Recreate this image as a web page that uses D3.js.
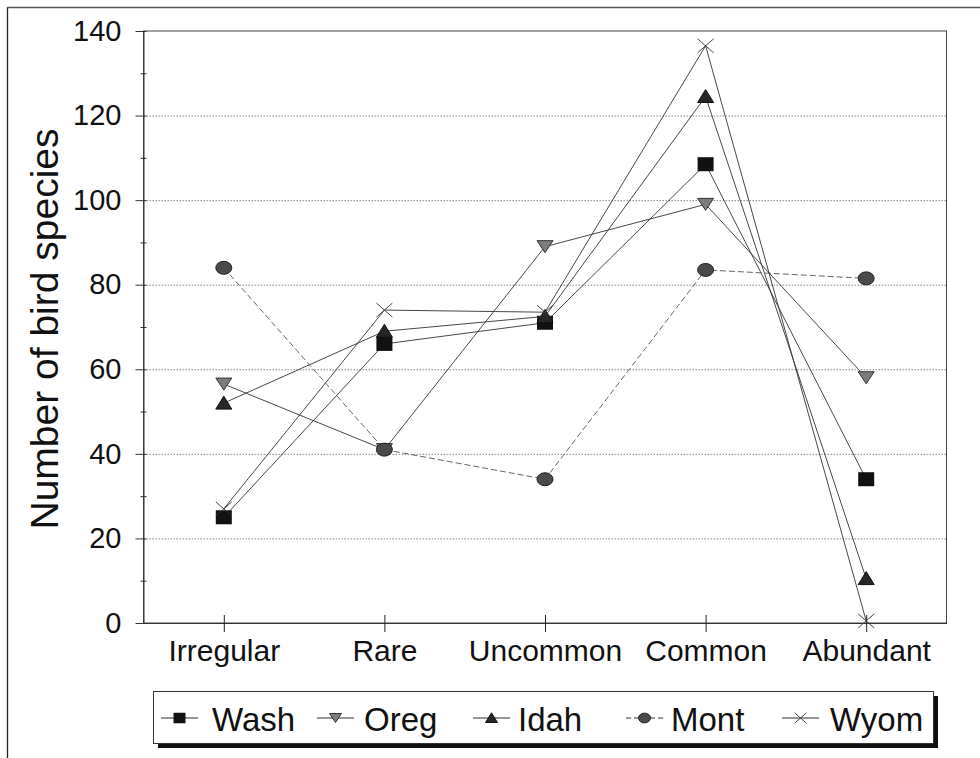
<!DOCTYPE html>
<html><head><meta charset="utf-8">
<script src="https://cdn.jsdelivr.net/npm/d3@7"></script>
<style>
html,body{margin:0;padding:0;background:#fff;}
svg{display:block;font-family:"Liberation Sans",Arial,sans-serif;}
</style></head>
<body><svg id="c" width="980" height="758"></svg>
<script>
const categories = ["Irregular","Rare","Uncommon","Common","Abundant"];
const seriesNames = ["Wash","Oreg","Idah","Mont","Wyom"];
const wash = [25, 66, 71, 108.5, 34];
const oreg = [56.5, 41, 89, 99, 58];
const idah = [52, 69, 72.5, 124.5, 10.5];
const mont = [84, 41, 34, 83.5, 81.5];
const wyom = [27, 74, 73.5, 136.5, 0.5];
const yMajorTicks = [0,20,40,60,80,100,120,140];
const yMinorTicks = [10,30,50,70,90,110,130];
const gridTicks = [20,40,60,80,100,120];

const seriesValues = [wash, oreg, idah, mont, wyom];
const svg = d3.select("#c");

// outer frame
svg.append("line").attr("x1",7.5).attr("x2",7.5).attr("y1",7).attr("y2",758).attr("stroke","#222").attr("stroke-width",1.3);
svg.append("line").attr("x1",7).attr("x2",980).attr("y1",7.5).attr("y2",7.5).attr("stroke","#555").attr("stroke-width",1.3);

const L = 143.5, R = 946.5, T = 31, B = 623;
const x = d3.scalePoint().domain(categories).range([L,R]).padding(0.5);
const y = d3.scaleLinear().domain([0,140]).range([B,T]);

// gridlines
svg.append("g").selectAll("line").data(gridTicks).join("line")
  .attr("x1",L).attr("x2",R).attr("y1",d=>y(d)+0.5).attr("y2",d=>y(d)+0.5)
  .attr("stroke","#777").attr("stroke-width",0.9).attr("stroke-dasharray","1.5,1.5");

// plot frame
svg.append("rect").attr("x",L).attr("y",T).attr("width",R-L).attr("height",B-T)
  .attr("fill","none").attr("stroke","#444").attr("stroke-width",1);

// y axis
const yAxis = d3.axisLeft(y).tickValues(yMajorTicks).tickSize(8).tickSizeOuter(0).tickPadding(14);
const gy = svg.append("g").attr("transform",`translate(${L},0)`).call(yAxis);
gy.select(".domain").attr("stroke","#333");
gy.selectAll(".tick line").attr("stroke","#333");
gy.selectAll(".tick text").attr("font-size",29).attr("fill","#111").attr("font-family","Liberation Sans, Arial, sans-serif");
const yMinor = d3.axisLeft(y).tickValues(yMinorTicks).tickSize(3).tickSizeOuter(0).tickFormat("");
const gym = svg.append("g").attr("transform",`translate(${L},0)`).call(yMinor);
gym.select(".domain").remove();
gym.selectAll(".tick line").attr("stroke","#333").attr("x2",3).attr("x1",-3);
gy.selectAll(".tick line").attr("x2",-8).attr("x1",3);

// x axis
const xAxis = d3.axisBottom(x).tickSize(9).tickSizeOuter(0).tickPadding(8);
const gx = svg.append("g").attr("transform",`translate(0,${B})`).call(xAxis);
gx.select(".domain").attr("stroke","#333");
gx.selectAll(".tick line").attr("stroke","#222").attr("y1",-8).attr("y2",9);
gx.selectAll(".tick text").attr("font-size",30).attr("fill","#111").attr("font-family","Liberation Sans, Arial, sans-serif");

// y title
svg.append("text").attr("transform","translate(58,329) rotate(-90)")
  .attr("text-anchor","middle").attr("font-size",39).attr("fill","#111").text("Number of bird species");

// markers
function marker(g, i, cx, cy, scale){
  const s = scale||1;
  if(i===0){
    g.append("rect").attr("x",cx-8*s).attr("y",cy-7*s).attr("width",16*s).attr("height",14*s).attr("fill","#111");
  } else if(i===1){
    g.append("path").attr("d",`M${cx-8*s},${cy-6*s}L${cx+8*s},${cy-6*s}L${cx},${cy+6*s}Z`)
      .attr("fill","#7d7d7d").attr("stroke","#333").attr("stroke-width",1);
  } else if(i===2){
    g.append("path").attr("d",`M${cx-8*s},${cy+6*s}L${cx+8*s},${cy+6*s}L${cx},${cy-7*s}Z`)
      .attr("fill","#262626").attr("stroke","#111").attr("stroke-width",1);
  } else if(i===3){
    g.append("ellipse").attr("cx",cx).attr("cy",cy).attr("rx",8*s).attr("ry",6.5*s)
      .attr("fill","#4a4a4a").attr("stroke","#222").attr("stroke-width",1);
  } else {
    g.append("path").attr("d",`M${cx-8*s},${cy-7*s}L${cx+8*s},${cy+7*s}M${cx-8*s},${cy+7*s}L${cx+8*s},${cy-7*s}`)
      .attr("stroke","#333").attr("stroke-width",0.9).attr("fill","none");
  }
}

const line = d3.line().x((d,i)=>x(categories[i])).y(d=>y(d));
seriesValues.forEach((vals,i)=>{
  const g = svg.append("g");
  g.append("path").attr("d",line(vals)).attr("fill","none")
    .attr("stroke", i===3 ? "#555" : "#333").attr("stroke-width",0.9)
    .attr("stroke-dasharray", i===3 ? "6,3" : null);
  vals.forEach((v,j)=>marker(g,i,x(categories[j]),y(v)));
});

// legend
const lg = svg.append("g");
lg.append("rect").attr("x",158).attr("y",696).attr("width",780).attr("height",52).attr("fill","#111");
lg.append("rect").attr("x",153.5).attr("y",691.5).attr("width",780).attr("height",52).attr("fill","#fff").attr("stroke","#333").attr("stroke-width",1);
const legX = [161, 317, 473, 626, 782];
const legTextX = [212, 364, 518, 671, 830];
seriesNames.forEach((n,i)=>{
  const cy = 718;
  lg.append("line").attr("x1",legX[i]).attr("x2",legX[i]+37).attr("y1",cy).attr("y2",cy)
    .attr("stroke","#333").attr("stroke-width",1).attr("stroke-dasharray", i===3?"5,3":null);
  marker(lg,i,legX[i]+18.5,cy,0.75);
  lg.append("text").attr("x",legTextX[i]).attr("y",731).attr("font-size",33).attr("fill","#111").text(n);
});
</script></body></html>
